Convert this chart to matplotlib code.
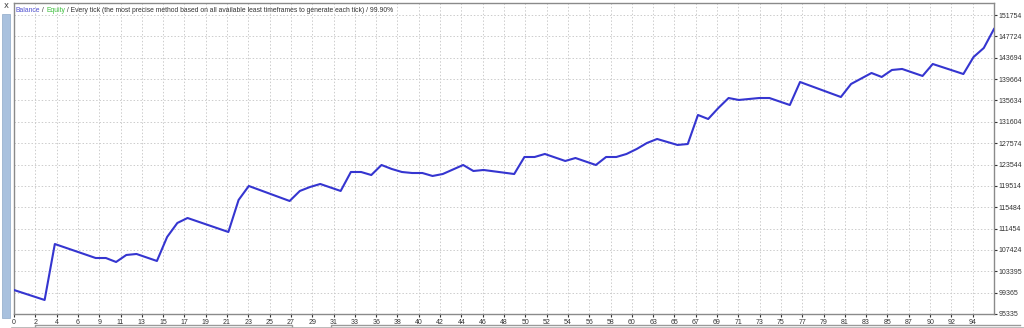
import matplotlib
matplotlib.use("Agg")
import matplotlib.pyplot as plt
from matplotlib.patches import Rectangle
from matplotlib.lines import Line2D

# ---- data ----
trade_no = [0, 3, 4, 8, 9, 10, 11, 12, 14, 15, 16, 17, 21, 22, 23, 27, 28, 29, 30, 32,
            33, 34, 35, 36, 37, 38, 39, 40, 41, 42, 44, 45, 46, 49, 50, 51, 52, 54, 55, 57,
            58, 59, 60, 61, 62, 63, 65, 66, 67, 68, 69, 70, 71, 73, 74, 76, 77, 81, 82, 84,
            85, 86, 87, 89, 90, 93, 94, 95, 96]
balance = [99860, 97980, 108540, 105900, 105900, 105150, 106470, 106660, 105340, 109870,
           112510, 113450, 110810, 116850, 119490, 116660, 118550, 119300, 119870, 118550,
           122130, 122130, 121560, 123450, 122700, 122130, 121940, 121940, 121380, 121750,
           123450, 122320, 122510, 121750, 124960, 124960, 125530, 124210, 124770, 123450,
           124960, 124960, 125530, 126470, 127600, 128360, 127230, 127410, 132890, 132130,
           134210, 136090, 135720, 136090, 136090, 134770, 139110, 136280, 138740, 140810,
           140060, 141380, 141570, 140250, 142510, 140620, 143830, 145530, 149120]
x_tick_labels = ["0", "2", "4", "6", "9", "11", "13", "15", "17", "19", "21", "23", "25", "27",
                 "29", "31", "33", "36", "38", "40", "42", "44", "46", "48", "50", "52", "54",
                 "56", "58", "60", "63", "65", "67", "69", "71", "73", "75", "77", "79", "81",
                 "83", "85", "87", "90", "92", "94"]
y_tick_values = [95335, 99365, 103395, 107424, 111454, 115484, 119514, 123544, 127574,
                 131604, 135634, 139664, 143694, 147724, 151754]

W, H = 1024, 328
fig = plt.figure(figsize=(W / 100, H / 100), dpi=100)
fig.patch.set_facecolor("white")

L, R, B, T = 14, 994, 314, 3
ax = fig.add_axes([L / W, (H - B) / H, (R - L) / W, (B - T) / H])

x_max = 96.0
y_min = 95335
y_max = y_min + (B - T) * (151754 - 95335) / (B - 15)

ax.plot(trade_no, balance, color="#3535d0", lw=1.5, solid_joinstyle="round", zorder=3)
ax.set_xlim(0, x_max)
ax.set_ylim(y_min, y_max)

grid_step = x_max / 46.0
ax.set_xticks([i * grid_step for i in range(len(x_tick_labels))])
ax.set_xticklabels(x_tick_labels)
ax.set_yticks(y_tick_values)
ax.set_yticklabels([str(v) for v in y_tick_values])

ax.yaxis.tick_right()
ax.tick_params(axis="both", labelsize=5.0, colors="#333333", length=2.5, width=0.8,
               direction="out")
for lbl in ax.get_xticklabels() + ax.get_yticklabels():
    lbl.set_family("Liberation Sans")
ax.tick_params(axis="x", pad=1)
ax.tick_params(axis="y", pad=1)

ax.grid(True, color="#cccccc", linestyle=(0, (1.5, 2)), linewidth=0.7)
ax.set_axisbelow(True)
for s in ax.spines.values():
    s.set_color("#8a8a8a")
    s.set_linewidth(1.0)

# header text
fs = 4.9
fam = "Liberation Sans"
t1 = ax.text(2 / (R - L), 1 - 9 / (B - T), "Balance", transform=ax.transAxes,
             fontsize=fs, family=fam, color="#5050d0", va="baseline", ha="left")
t2 = ax.annotate(" / ", xy=(1, 0), xycoords=t1, fontsize=fs, family=fam,
                 color="#333333", va="bottom", ha="left")
t3 = ax.annotate("Equity", xy=(1, 0), xycoords=t2, fontsize=fs, family=fam,
                 color="#3cbf3c", va="bottom", ha="left")
t4 = ax.annotate(" / Every tick (the most precise method based on all available least "
                 "timeframes to generate each tick) / 99.90%", xy=(1, 0), xycoords=t3,
                 fontsize=fs, family=fam, color="#333333", va="bottom", ha="left")

# left panel strip and close mark
fig.patches.append(Rectangle((2 / W, (H - 318) / H), 8 / W, (318 - 14) / H,
                             transform=fig.transFigure, facecolor="#a9c1de",
                             edgecolor="#8fa9c8", lw=0.5))
fig.text(6 / W, 1 - 6 / H, "x", fontsize=6, ha="center", va="center", color="#444444")

# bottom tab outlines
def fig_line(xs, ys, **kw):
    fig.add_artist(Line2D([x / W for x in xs], [1 - y / H for y in ys],
                          transform=fig.transFigure, **kw))

fig_line([35, 35, 292, 292], [328, 324.5, 324.5, 328], color="#9a9a9a", lw=1.0)
fig_line([331, 331, 1020], [328, 324.5, 324.5], color="#9a9a9a", lw=1.0)
fig_line([12, 1024], [327.5, 327.5], color="#b0b0b0", lw=1.2)

fig.savefig("out.png", dpi=100)
